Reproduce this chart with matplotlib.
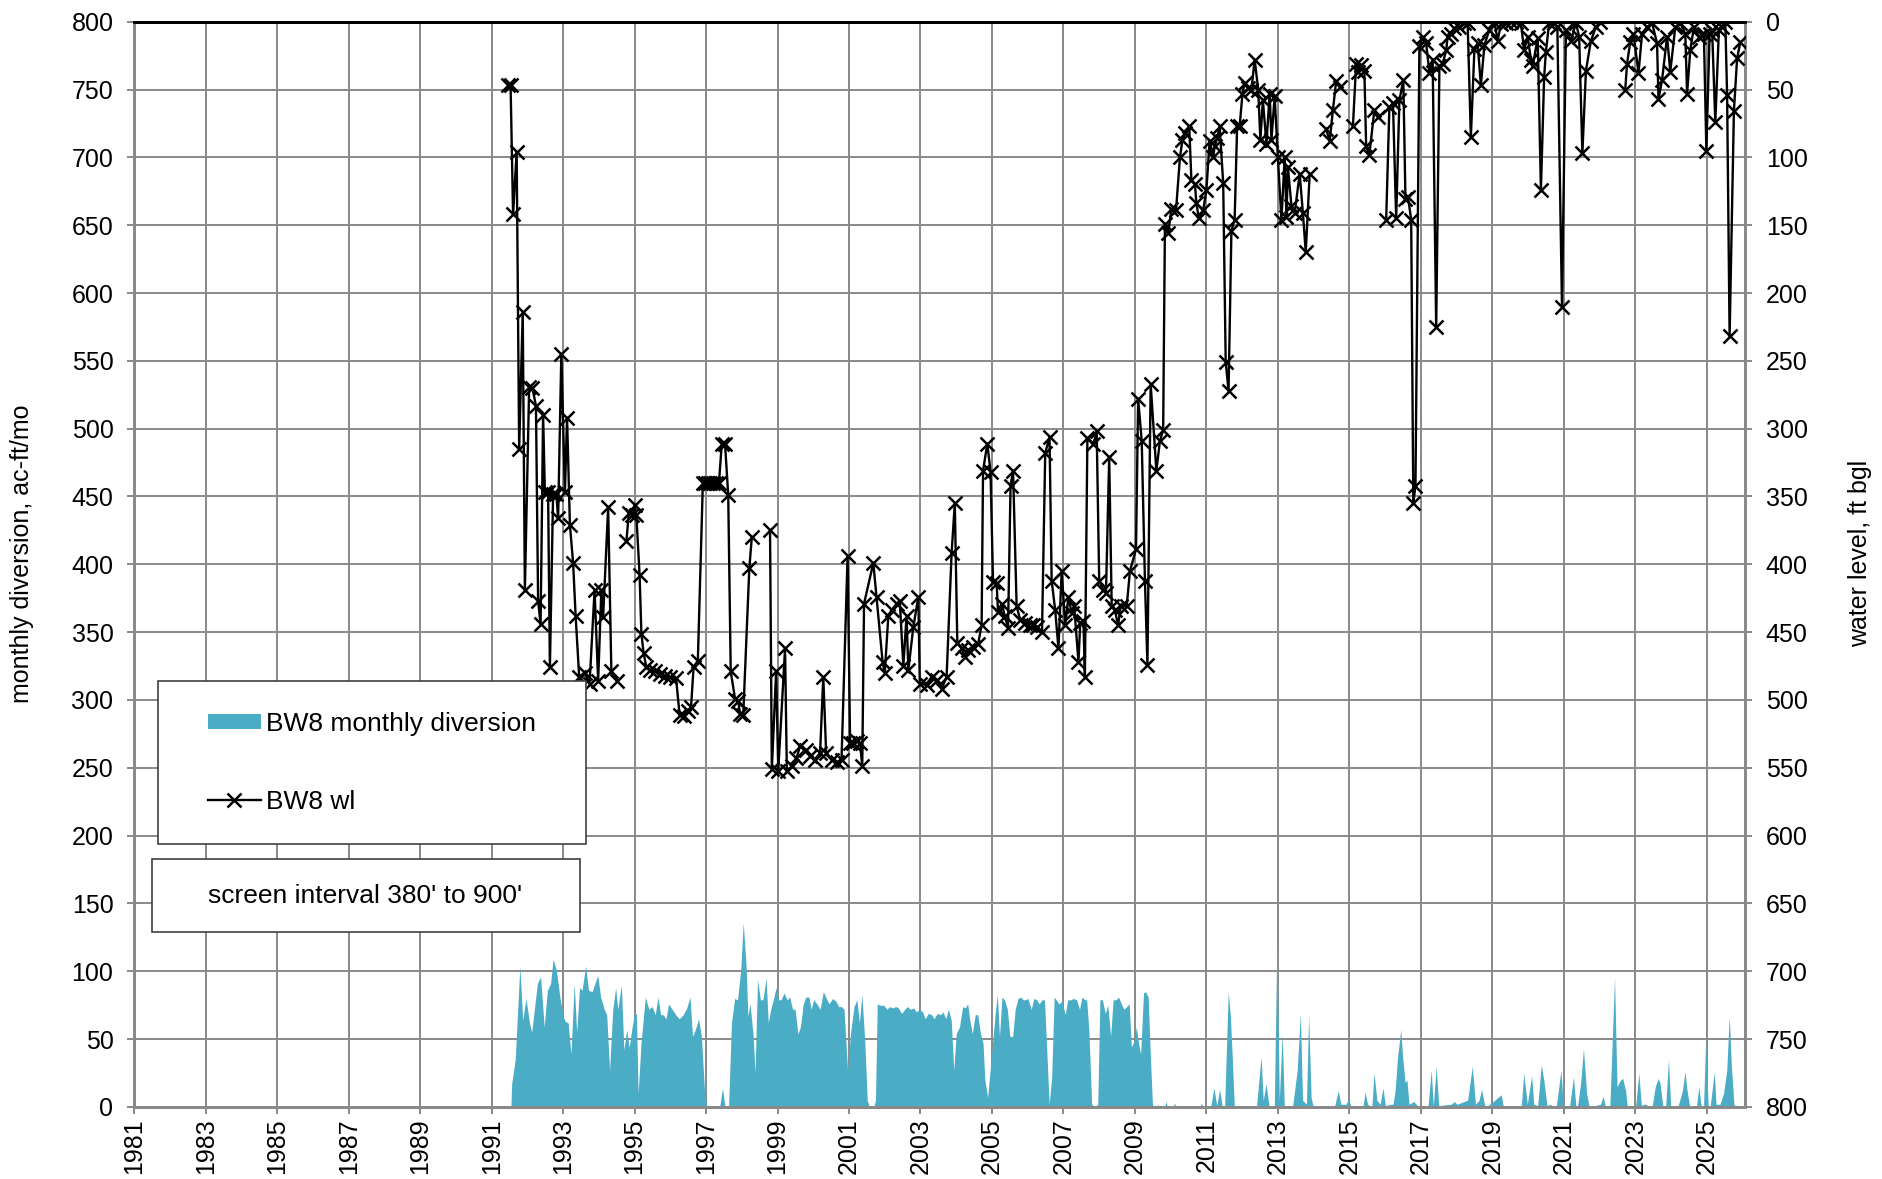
import numpy as np
import matplotlib
matplotlib.use("Agg")
import matplotlib.pyplot as plt
from matplotlib.patches import Rectangle, Patch
from matplotlib.lines import Line2D

plt.rcParams['font.family'] = ['Liberation Sans', 'DejaVu Sans']

nan = np.nan

# BW8 monthly diversion, ac-ft/mo (decimal year)
div_year = [
    1991.54, 1991.56, 1991.66, 1991.79, 1991.87, 1991.96, 1992.06, 1992.12, 1992.28, 1992.37,
    1992.47, 1992.56, 1992.65, 1992.72, 1992.81, 1992.91, 1993.00, 1993.06, 1993.14, 1993.22,
    1993.31, 1993.38, 1993.46, 1993.53, 1993.63, 1993.71, 1993.81, 1993.89, 1993.97, 1994.05,
    1994.15, 1994.22, 1994.30, 1994.39, 1994.47, 1994.53, 1994.63, 1994.70, 1994.78, 1994.85,
    1994.92, 1994.99, 1995.05, 1995.10, 1995.18, 1995.30, 1995.40, 1995.49, 1995.58, 1995.65,
    1995.73, 1995.80, 1995.88, 1995.95, 1996.05, 1996.15, 1996.25, 1996.36, 1996.46, 1996.55,
    1996.62, 1996.70, 1996.79, 1996.87, 1996.96, 1997.02, 1997.07,
    1997.38, 1997.46, 1997.53,
    1997.63, 1997.71, 1997.80, 1997.88, 1997.97, 1998.04, 1998.12, 1998.17, 1998.23, 1998.32,
    1998.37, 1998.44, 1998.52, 1998.59, 1998.68, 1998.74, 1998.81, 1998.88, 1998.96, 1999.02,
    1999.10, 1999.18, 1999.27, 1999.34, 1999.42, 1999.49, 1999.57, 1999.64, 1999.72, 1999.79,
    1999.88, 1999.94, 2000.01, 2000.10, 2000.19, 2000.28, 2000.35, 2000.44, 2000.54, 2000.63,
    2000.71, 2000.79, 2000.86, 2000.96, 2001.04, 2001.14, 2001.22, 2001.29, 2001.36, 2001.44,
    2001.51, 2001.57,
    2001.69, 2001.74, 2001.79, 2001.87, 2001.97, 2002.06, 2002.13, 2002.22, 2002.31, 2002.38,
    2002.47, 2002.56, 2002.63, 2002.72, 2002.81, 2002.88, 2002.97, 2003.06, 2003.13, 2003.22,
    2003.31, 2003.38, 2003.47, 2003.56, 2003.63, 2003.71, 2003.78, 2003.86, 2003.93, 2004.00,
    2004.09, 2004.18, 2004.25, 2004.32, 2004.38, 2004.45, 2004.53, 2004.60, 2004.68, 2004.75,
    2004.80, 2004.88, 2004.93, 2005.00, 2005.09, 2005.15, 2005.21, 2005.28, 2005.35, 2005.43,
    2005.50, 2005.58, 2005.65, 2005.73, 2005.80, 2005.88, 2005.93, 2006.00, 2006.10, 2006.17,
    2006.25, 2006.32, 2006.40, 2006.47, 2006.55, 2006.60, 2006.67, 2006.74, 2006.80, 2006.87,
    2006.96, 2007.05, 2007.12, 2007.21, 2007.28, 2007.37, 2007.45, 2007.52, 2007.60, 2007.65,
    2007.71, 2007.79, 2007.89, 2007.96, 2008.02, 2008.09, 2008.17, 2008.24, 2008.32, 2008.39,
    2008.47, 2008.54, 2008.62, 2008.69, 2008.77, 2008.84, 2008.90, 2008.98, 2009.04, 2009.10,
    2009.16, 2009.24, 2009.30, 2009.37, 2009.43, 2009.49, 2009.54,
    2009.61, 2009.64, 2009.68, 2009.83, 2009.87, 2009.91, 2010.07, 2010.11, 2010.15,
    2010.82, 2010.86, 2010.90,
    2011.12, 2011.21, 2011.29, 2011.37, 2011.44, 2011.51, 2011.61, 2011.67, 2011.72, 2011.78, 2011.84,
    2012.40, 2012.53, 2012.59, 2012.67, 2012.75,
    2012.90, 2012.97, 2013.04, 2013.12, 2013.18,
    2013.41, 2013.54, 2013.63, 2013.69, 2013.80, 2013.86, 2013.93, 2013.99,
    2014.58, 2014.69, 2014.76, 2014.91, 2014.97, 2015.04,
    2015.26, 2015.38, 2015.44, 2015.51, 2015.63, 2015.69, 2015.77, 2015.86, 2015.94, 2016.01,
    2016.15, 2016.22, 2016.28, 2016.35, 2016.44, 2016.49, 2016.56, 2016.61, 2016.67, 2016.80, 2016.87, 2016.93,
    2017.20, 2017.29, 2017.35, 2017.43, 2017.50,
    2017.85, 2017.94, 2018.01,
    2018.31, 2018.44, 2018.53, 2018.63, 2018.70, 2018.78, 2018.83,
    2019.07, 2019.16, 2019.25, 2019.31,
    2019.81, 2019.88, 2019.98, 2020.10, 2020.16, 2020.27, 2020.37, 2020.44, 2020.53, 2020.63, 2020.69,
    2020.79, 2020.92, 2020.99, 2021.16, 2021.27, 2021.34, 2021.38, 2021.47, 2021.55, 2021.64, 2021.71,
    2022.03, 2022.10, 2022.16, 2022.29, 2022.42, 2022.49, 2022.59, 2022.65, 2022.73, 2022.78,
    2023.01, 2023.10, 2023.17, 2023.24, 2023.30, 2023.38,
    2023.47, 2023.56, 2023.64, 2023.69, 2023.77, 2023.85, 2023.93, 2023.99,
    2024.19, 2024.32, 2024.39, 2024.45, 2024.52, 2024.71, 2024.78, 2024.84, 2024.91, 2024.97,
    2025.04, 2025.10, 2025.21, 2025.26, 2025.37, 2025.47, 2025.56, 2025.63, 2025.69, 2025.76, 2025.82,
]
div_value = [
    0, 17, 35, 104, 64, 80, 62, 55, 91, 96,
    59, 86, 91, 109, 101, 81, 67, 63, 62, 39,
    91, 55, 88, 86, 104, 86, 85, 91, 97, 81,
    72, 68, 27, 72, 88, 72, 90, 42, 57, 44,
    57, 68, 69, 10, 47, 81, 72, 74, 68, 81,
    68, 68, 65, 76, 72, 68, 65, 68, 73, 81,
    52, 57, 65, 52, 10, 1, 0,
    0, 14, 0,
    0, 62, 80, 79, 101, 136, 104, 67, 76, 52,
    25, 94, 79, 79, 95, 62, 72, 79, 88, 79,
    79, 84, 79, 81, 72, 72, 54, 59, 76, 81,
    81, 72, 79, 76, 72, 85, 81, 76, 80, 78,
    74, 74, 72, 27, 54, 74, 79, 62, 83, 49,
    5, 0,
    0, 5, 76, 75, 75, 72, 74, 73, 74, 73,
    69, 72, 74, 72, 73, 70, 72, 70, 65, 69,
    68, 65, 69, 68, 70, 65, 72, 64, 27, 54,
    59, 74, 73, 76, 64, 54, 68, 68, 54, 47,
    20, 7, 22, 42, 69, 83, 52, 81, 79, 72,
    52, 52, 72, 80, 81, 79, 79, 80, 72, 80,
    79, 76, 79, 79, 32, 2, 22, 81, 79, 76,
    78, 68, 79, 79, 80, 79, 72, 81, 79, 79,
    57, 2, 0, 2, 79, 79, 69, 75, 52, 79,
    79, 81, 76, 72, 74, 76, 44, 49, 59, 47,
    39, 84, 85, 81, 39, 2, 0,
    0, 2, 0, 0, 4, 0, 0, 3, 0,
    0, 3, 0,
    0, 14, 1, 13, 1, 0, 85, 67, 39, 1, 0,
    0, 37, 5, 17, 1,
    0, 121, 5, 54, 1,
    0, 27, 69, 5, 2, 68, 7, 0,
    0, 12, 2, 2, 6, 1,
    1, 0, 11, 2, 0, 25, 5, 2, 14, 1,
    2, 2, 12, 37, 57, 37, 18, 20, 2, 4, 2, 0,
    0, 27, 1, 30, 1,
    2, 4, 2,
    5, 30, 2, 5, 13, 2, 0,
    5, 7, 9, 0,
    0, 25, 2, 23, 2, 1, 31, 20, 1, 2, 0,
    0, 27, 0, 0, 22, 0, 0, 17, 43, 10, 0,
    2, 8, 1, 1, 95, 15, 20, 21, 12, 0,
    0, 25, 1, 2, 2, 0,
    0, 15, 21, 18, 1, 0, 35, 1,
    0, 12, 26, 12, 1, 0, 15, 1, 0, 49,
    1, 1, 26, 2, 2, 10, 27, 67, 30, 2, 0,
]

# BW8 water level, ft below ground level (nan = break in the record)
wl_year = [
    1991.47, 1991.53, 1991.60, 1991.70, 1991.77, 1991.87, 1991.93, 1992.05, 1992.14, 1992.24,
    1992.30, 1992.37, 1992.44, 1992.49, 1992.58, 1992.63, 1992.72, 1992.81, 1992.86, 1992.95,
    1993.05, 1993.11, 1993.19, 1993.28, 1993.35, 1993.45, 1993.60, 1993.74, 1993.88, 1993.98,
    1994.07, 1994.12, 1994.26, 1994.35, 1994.51, nan,
    1994.77, 1994.84, 1994.93, 1995.00, 1995.05, 1995.14, 1995.19, 1995.25, 1995.33, 1995.42,
    1995.56, 1995.70, 1995.84, 1995.98, 1996.16, 1996.26, 1996.37, 1996.49, 1996.58, 1996.65,
    1996.77, 1996.91, 1996.98, 1997.05, 1997.12, 1997.20, 1997.28, 1997.36, 1997.44, 1997.53,
    1997.62, 1997.69, 1997.81, 1997.90, 1997.95, 1998.04, 1998.21, 1998.28, nan,
    1998.79, 1998.84, 1998.96, 1999.02, 1999.21, 1999.26, 1999.40, 1999.53, 1999.63, 1999.81,
    1999.91, 2000.05, 2000.19, 2000.28, 2000.36, 2000.51, 2000.65, 2000.79, 2000.96, 2001.03,
    2001.12, 2001.21, 2001.31, 2001.37, 2001.42, 2001.68, 2001.77, 2001.94, 2002.00, 2002.10,
    2002.19, 2002.33, 2002.42, 2002.52, 2002.61, 2002.66, 2002.80, 2002.94, 2002.98, 2003.17,
    2003.31, 2003.45, 2003.59, 2003.73, 2003.87, 2003.96, 2004.03, 2004.15, 2004.24, 2004.33,
    2004.47, 2004.61, 2004.71, 2004.75, 2004.87, 2004.96, 2005.03, 2005.13, 2005.17, 2005.27,
    2005.36, 2005.45, 2005.52, 2005.59, 2005.69, 2005.79, 2005.93, 2006.07, 2006.16, 2006.26,
    2006.40, 2006.49, 2006.61, 2006.67, 2006.77, 2006.86, 2006.95, 2007.05, 2007.14, 2007.23,
    2007.30, 2007.42, 2007.47, 2007.56, 2007.60, 2007.67, 2007.84, 2007.93, 2008.00, 2008.12,
    2008.19, 2008.28, 2008.35, 2008.44, 2008.53, 2008.60, 2008.77, 2008.86, 2009.03, 2009.09,
    2009.19, 2009.28, 2009.35, 2009.44, 2009.60, 2009.70, 2009.79, 2009.84, 2009.93, 2010.02,
    2010.15, 2010.26, 2010.33, 2010.40, 2010.52, 2010.58, 2010.68, 2010.72, 2010.79, 2010.91,
    2011.00, 2011.09, 2011.19, 2011.23, 2011.30, 2011.37, 2011.47, 2011.54, 2011.62, 2011.70,
    2011.79, 2011.86, 2011.93, 2012.01, 2012.07, 2012.17, 2012.26, 2012.35, 2012.45, 2012.51,
    2012.58, 2012.68, 2012.77, 2012.82, 2012.91, 2013.00, 2013.10, 2013.19, 2013.24, 2013.28,
    2013.38, 2013.47, 2013.61, 2013.70, 2013.78, 2013.89, nan,
    2014.35, 2014.45, 2014.54, 2014.63, 2014.73, nan,
    2015.10, 2015.19, 2015.24, 2015.33, 2015.42, 2015.47, 2015.56, 2015.70, 2015.80, nan,
    2016.03, 2016.12, 2016.22, 2016.31, 2016.40, 2016.51, 2016.57, 2016.64, 2016.73, 2016.79,
    2016.85, 2016.96, 2017.05, 2017.15, 2017.24, 2017.33, 2017.43, 2017.52, 2017.61, 2017.71,
    2017.75, 2017.85, 2017.94, 2018.08, 2018.22, 2018.31, 2018.40, 2018.50, 2018.59, 2018.68,
    2018.78, 2018.92, 2019.06, 2019.15, 2019.24, 2019.38, 2019.52, 2019.66, 2019.80, 2019.89,
    2019.99, 2020.08, 2020.13, 2020.27, 2020.36, 2020.45, 2020.50, 2020.59, 2020.73, 2020.82,
    2020.95, 2021.06, 2021.20, 2021.34, 2021.43, 2021.52, 2021.62, 2021.76, 2021.90, 2022.02, nan,
    2022.72, 2022.77, 2022.86, 2022.95, 2023.09, 2023.19, 2023.33, 2023.47, 2023.61, 2023.65,
    2023.75, 2023.89, 2023.98, 2024.12, 2024.26, 2024.40, 2024.45, 2024.54, 2024.64, 2024.78,
    2024.92, 2024.99, 2025.08, 2025.15, 2025.24, 2025.34, 2025.43, 2025.52, 2025.57, 2025.64,
    2025.76, 2025.85, 2025.94,
]
wl_ftbgl = [
    47, 47, 142, 96, 315, 214, 419, 269, 270, 283,
    427, 444, 290, 347, 347, 476, 348, 348, 366, 245,
    347, 292, 371, 399, 438, 483, 480, 488, 419, 486,
    419, 439, 358, 479, 486, nan,
    383, 362, 364, 356, 364, 408, 451, 465, 476, 478,
    479, 481, 482, 483, 484, 511, 512, 508, 505, 476,
    471, 340, 340, 340, 340, 340, 340, 340, 311, 311,
    349, 479, 499, 501, 510, 511, 403, 380, nan,
    375, 551, 479, 552, 462, 552, 549, 543, 534, 537,
    541, 544, 539, 483, 539, 544, 546, 544, 394, 532,
    532, 530, 532, 549, 429, 399, 424, 472, 480, 438,
    434, 429, 427, 475, 438, 478, 446, 424, 488, 489,
    483, 485, 492, 483, 392, 355, 458, 462, 468, 463,
    461, 459, 445, 331, 311, 332, 413, 414, 435, 429,
    438, 447, 342, 331, 431, 441, 443, 445, 445, 446,
    450, 318, 306, 412, 434, 462, 405, 445, 424, 436,
    431, 472, 443, 442, 483, 307, 311, 302, 412, 419,
    421, 321, 431, 434, 445, 431, 431, 405, 389, 278,
    309, 412, 474, 267, 331, 309, 301, 149, 156, 138,
    139, 100, 87, 82, 77, 117, 120, 134, 145, 139,
    124, 88, 100, 92, 86, 77, 119, 251, 272, 154,
    146, 77, 77, 53, 45, 49, 50, 28, 50, 87,
    58, 90, 53, 87, 55, 100, 146, 100, 144, 107,
    136, 141, 112, 141, 170, 112, nan,
    79, 88, 65, 44, 48, nan,
    77, 31, 37, 32, 36, 92, 98, 65, 70, nan,
    146, 63, 60, 145, 58, 43, 131, 129, 146, 355,
    342, 18, 11, 16, 38, 28, 225, 33, 31, 21,
    11, 9, 5, 4, 1, 1, 85, 20, 16, 47,
    17, 6, 0, 14, 2, 1, 0, 0, 1, 21,
    11, 28, 33, 12, 124, 41, 22, 1, 1, 4,
    210, 6, 14, 1, 11, 97, 36, 14, 4, 0, nan,
    50, 31, 15, 9, 38, 9, 4, 1, 16, 57,
    43, 11, 37, 4, 1, 9, 53, 21, 4, 11,
    9, 95, 9, 6, 74, 6, 4, 0, 54, 232,
    66, 27, 15,
]

year_ticks = list(range(1981, 2026, 2))
value_ticks = list(range(0, 801, 50))

teal = '#4bacc6'
grey = '#898989'
fs = 18

fig = plt.figure(figsize=(18.83, 11.79), dpi=100)
ax = fig.add_axes([0.0713, 0.0611, 0.8554, 0.9205])

ax.fill_between(div_year, div_value, 0, color=teal, lw=0, zorder=2)
ax.set_xlim(1981, 2026.07)
ax.set_ylim(0, 800)
ax.set_xticks(year_ticks)
ax.set_xticklabels([str(y) for y in year_ticks], rotation=90)
ax.set_yticks(value_ticks)
ax.grid(True, color=grey, lw=1.4)
ax.set_axisbelow(True)
ax.tick_params(axis='y', direction='out', length=5, width=1.4, color=grey,
               labelsize=fs, pad=10)
ax.tick_params(axis='x', direction='out', length=5, width=1.4, color=grey,
               labelsize=fs, pad=3)

ax2 = ax.twinx()
ax2.plot(wl_year, wl_ftbgl, color='black', lw=1.7, marker='x', ms=10, mew=1.8, zorder=3)
ax2.set_ylim(800, 0)
ax2.set_yticks(value_ticks)
ax2.tick_params(axis='y', direction='out', length=5, width=1.4, color=grey,
                labelsize=fs, pad=10)

for a in (ax, ax2):
    for side in ('left', 'right', 'bottom'):
        a.spines[side].set_color(grey)
        a.spines[side].set_linewidth(2)
    a.spines['top'].set_color('black')
    a.spines['top'].set_linewidth(2)

# legend box
ax2.add_patch(Rectangle((0.0149, 0.2421), 0.2655, 0.1505, transform=ax2.transAxes,
                        facecolor='white', edgecolor='#404040', lw=1.2, zorder=5))
handles = [Patch(facecolor=teal, edgecolor='none', label='BW8 monthly diversion'),
           Line2D([], [], color='black', lw=1.7, marker='x', ms=10, mew=1.8, label='BW8 wl')]
leg = ax2.legend(handles=handles, loc='center left', bbox_to_anchor=(0.0458, 0.317),
                 frameon=False, borderpad=0, borderaxespad=0, handlelength=2.0,
                 handleheight=0.55, handletextpad=0.2, labelspacing=2.05, fontsize=19)
leg.set_zorder(6)

# screen interval note
ax2.add_patch(Rectangle((0.0112, 0.1612), 0.2655, 0.0673, transform=ax2.transAxes,
                        facecolor='white', edgecolor='#404040', lw=1.2, zorder=5))
ax2.text(0.0458, 0.1945, "screen interval 380' to 900'", transform=ax2.transAxes,
         fontsize=19, va='center', ha='left', zorder=6)

fig.text(0.0115, 0.530, 'monthly diversion, ac-ft/mo', rotation=90, fontsize=fs,
         ha='center', va='center')
fig.text(0.9878, 0.531, 'water level, ft bgl', rotation=90, fontsize=fs,
         ha='center', va='center')

fig.savefig('out.png', dpi=100)
